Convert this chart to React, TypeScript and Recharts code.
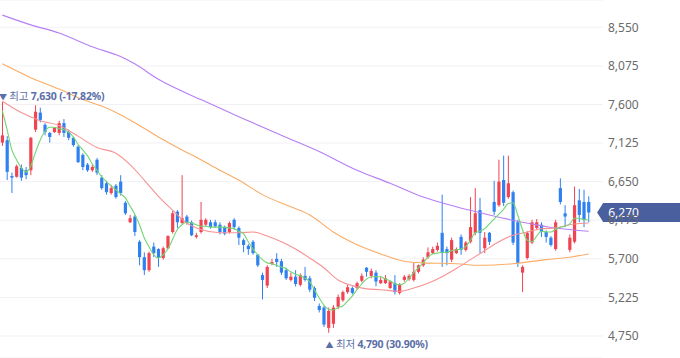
import React from 'react';
import { ComposedChart, Bar, Line, XAxis, YAxis, CartesianGrid, ReferenceDot } from 'recharts';

// ---- data (daily candles) ----
const opens = [
  7130, 7160, 6720, 6710, 6820, 6790, 6790, 7290, 7500, 7350,
  7250, 7260, 7250, 7370, 7260, 7190, 7080, 6980, 6860, 6790,
  6920, 6700, 6630, 6510, 6600, 6650, 6390, 6150, 6220, 5910,
  5720, 5560, 5850, 5820, 5710, 5830, 6030, 6280, 6140, 6220,
  6150, 5970, 6030, 6120, 6150, 6150, 6120, 6090, 6030, 6180,
  6080, 5930, 5860, 5910, 5750, 5500, 5370, 5640, 5700, 5670,
  5560, 5440, 5480, 5380, 5490, 5460, 5340, 5120, 5100, 4850,
  4900, 5110, 5190, 5290, 5340, 5340, 5430, 5590, 5490, 5530,
  5400, 5400, 5340, 5400, 5280, 5440, 5450, 5440, 5540, 5620,
  5720, 5770, 5810, 6020, 5820, 5690, 5770, 5970, 5810, 5910,
  6020, 6300, 5830, 6020, 6400, 6360, 6670, 6460, 6520, 6150,
  5530, 5710, 5900, 6080, 6120, 6030, 5960, 5820, 6570, 6260,
  5810, 5910, 6420, 6400, 6400,
];
const highs = [
  7630, 7210, 6760, 6860, 6860, 6830, 7200, 7590, 7560, 7370,
  7260, 7320, 7400, 7420, 7290, 7200, 7100, 7000, 6880, 6860,
  6940, 6730, 6660, 6610, 6620, 6730, 6410, 6240, 6240, 5930,
  5780, 5790, 5900, 5830, 5850, 5990, 6290, 6300, 6730, 6240,
  6170, 6020, 6400, 6200, 6180, 6180, 6150, 6110, 6160, 6200,
  6100, 5950, 5880, 5930, 5760, 5530, 5620, 5700, 5770, 5700,
  5590, 5530, 5560, 5520, 5600, 5490, 5360, 5150, 5120, 5100,
  5130, 5260, 5310, 5380, 5360, 5420, 5520, 5600, 5580, 5560,
  5480, 5500, 5430, 5500, 5400, 5500, 5510, 5650, 5630, 5720,
  5840, 5850, 5900, 6490, 5850, 5960, 5840, 6000, 5920, 6460,
  6570, 6450, 6030, 6030, 6660, 6920, 6970, 6970, 6540, 6180,
  5620, 6040, 6180, 6190, 6150, 6050, 5980, 6180, 6690, 6360,
  6000, 6590, 6560, 6550, 6470,
];
const lows = [
  7090, 6670, 6510, 6700, 6660, 6680, 6730, 7260, 7380, 7220,
  7130, 7250, 7220, 7200, 7160, 7080, 6880, 6790, 6770, 6770,
  6730, 6550, 6490, 6490, 6440, 6480, 6240, 6140, 5980, 5620,
  5500, 5540, 5720, 5600, 5690, 5820, 6010, 6080, 6130, 6120,
  5980, 5950, 6010, 6100, 6070, 6080, 6000, 5990, 6010, 6060,
  5870, 5780, 5750, 5750, 5600, 5200, 5340, 5620, 5600, 5500,
  5440, 5420, 5360, 5360, 5420, 5290, 5180, 5040, 4860, 4790,
  4850, 5080, 5170, 5270, 5260, 5320, 5410, 5480, 5460, 5360,
  5390, 5390, 5330, 5260, 5260, 5420, 5430, 5420, 5520, 5600,
  5700, 5760, 5790, 5600, 5620, 5660, 5760, 5750, 5790, 5890,
  5990, 5770, 5770, 5870, 6240, 6340, 6350, 6440, 5870, 5600,
  5290, 5690, 5880, 6060, 5970, 5900, 5850, 5800, 6370, 6090,
  5780, 5890, 6150, 6090, 6150,
];
const closes = [
  7220, 6770, 6700, 6840, 6700, 6730, 7190, 7510, 7410, 7260,
  7200, 7310, 7370, 7250, 7190, 7100, 6890, 6830, 6790, 6830,
  6760, 6570, 6520, 6570, 6460, 6510, 6260, 6200, 6030, 5720,
  5560, 5770, 5770, 5710, 5830, 5980, 6260, 6150, 6200, 6140,
  5990, 5990, 6180, 6180, 6090, 6100, 6030, 6010, 6140, 6090,
  5960, 5870, 5820, 5770, 5620, 5440, 5600, 5660, 5660, 5530,
  5460, 5480, 5390, 5500, 5440, 5320, 5220, 5070, 4890, 5060,
  5100, 5230, 5290, 5350, 5280, 5400, 5490, 5540, 5550, 5420,
  5440, 5460, 5420, 5290, 5380, 5480, 5490, 5540, 5620, 5690,
  5780, 5820, 5860, 5770, 5770, 5930, 5820, 5810, 5900, 6090,
  6260, 6020, 5960, 5910, 6280, 6650, 6390, 6630, 5900, 5650,
  5600, 6020, 6150, 6150, 6030, 5970, 5870, 6150, 6400, 6220,
  5960, 6360, 6240, 6180, 6270,
];
// 5-day moving average, read per candle
const ma5 = [
  7520, 7290, 7040, 6920, 6820, 6770, 6840, 7010, 7160, 7270,
  7320, 7320, 7300, 7290, 7260, 7200, 7110, 7040, 6970, 6870,
  6790, 6710, 6650, 6600, 6550, 6500, 6450, 6350, 6250, 6120,
  5960, 5850, 5750, 5710, 5750, 5820, 5940, 6060, 6120, 6150,
  6140, 6120, 6100, 6100, 6090, 6090, 6090, 6090, 6080, 6070,
  6040, 6010, 5910, 5820, 5750, 5690, 5650, 5640, 5620, 5600,
  5580, 5540, 5510, 5490, 5460, 5420, 5320, 5220, 5130, 5080,
  5070, 5100, 5120, 5180, 5240, 5320, 5390, 5450, 5480, 5480,
  5480, 5450, 5430, 5390, 5380, 5400, 5460, 5530, 5590, 5650,
  5720, 5760, 5770, 5780, 5780, 5800, 5810, 5820, 5850, 5930,
  6020, 6040, 6070, 6130, 6190, 6250, 6310, 6380, 6390, 6240,
  6060, 5930, 5910, 5980, 6040, 6030, 6030, 6060, 6090, 6100,
  6130, 6200, 6200, 6180, 6180,
];
// 20 / 60 / 120-day moving averages, read at sample candles
const ma20Idx = [0, 4, 8, 12, 16, 20, 24, 27, 30, 33, 36, 39, 42, 46, 50, 53, 56, 59, 62, 65, 68, 71, 74, 77, 80, 84, 87, 90, 93, 96, 99, 102, 105, 108, 111, 114, 117, 120, 124];
const ma20Val = [7640, 7500, 7400, 7340, 7210, 7070, 7000, 6860, 6670, 6470, 6300, 6140, 6060, 6020, 6020, 6030, 5980, 5910, 5820, 5710, 5590, 5440, 5370, 5330, 5320, 5300, 5340, 5400, 5480, 5580, 5690, 5800, 5910, 5990, 6030, 6070, 6080, 6120, 6140];
const ma60Idx = [0, 6, 12, 17, 21, 27, 33, 38, 42, 46, 50, 55, 61, 65, 70, 74, 80, 85, 89, 96, 101, 108, 115, 120, 124];
const ma60Val = [8100, 7930, 7790, 7660, 7580, 7410, 7200, 7040, 6920, 6790, 6670, 6490, 6340, 6240, 6030, 5900, 5760, 5670, 5650, 5640, 5620, 5640, 5690, 5720, 5760];
const ma120Idx = [0, 6, 12, 19, 25, 28, 33, 42, 50, 59, 67, 75, 82, 89, 96, 103, 110, 117, 124];
const ma120Val = [8700, 8580, 8480, 8310, 8190, 8100, 7910, 7660, 7450, 7220, 7020, 6790, 6630, 6460, 6340, 6240, 6150, 6080, 6040];

const yTicks = [4750, 5225, 5700, 6175, 6650, 7125, 7600, 8075, 8550];
const yDomain = [4479, 8886];

const highMark = { idx: 0, value: 7630, word: '최고', text: '7,630 (-17.82%)' };
const lowMark = { idx: 69, value: 4790, word: '최저', text: '4,790 (30.90%)' };
const lastPrice = 6270;

const UP = '#f04452';
const DOWN = '#2f80f0';
const MARK = '#5a6ea8';
const FONT = "'Noto Sans', 'Noto Sans CJK KR', sans-serif";

function sparse(idx: number[], val: number[], n: number) {
  const out: (number | null)[] = new Array(n).fill(null);
  idx.forEach((k, j) => { out[k] = val[j]; });
  return out;
}

const N = opens.length;
const m20 = sparse(ma20Idx, ma20Val, N);
const m60 = sparse(ma60Idx, ma60Val, N);
const m120 = sparse(ma120Idx, ma120Val, N);

const data = opens.map((o, i) => ({
  i,
  o,
  h: highs[i],
  l: lows[i],
  c: closes[i],
  range: [lows[i], highs[i]],
  ma5: ma5[i],
  ma20: m20[i],
  ma60: m60[i],
  ma120: m120[i],
}));

function Candle(props: any) {
  const { x, y, width, height, payload } = props;
  if (!payload) return null;
  const { o, h, l, c } = payload;
  const color = c >= o ? UP : DOWN;
  const cx = x + width / 2;
  const top = Math.min(y, y + height);
  const hgt = Math.abs(height);
  const ppu = h > l ? hgt / (h - l) : 0;
  const bTop = top + (h - Math.max(o, c)) * ppu;
  const bBot = top + (h - Math.min(o, c)) * ppu;
  const bw = 3.2;
  return (
    <g>
      <line x1={cx} x2={cx} y1={top} y2={top + hgt} stroke={color} strokeWidth={1} />
      <rect x={cx - bw / 2} y={bTop} width={bw} height={Math.max(1, bBot - bTop)} fill={color} />
    </g>
  );
}

function HighLabel(p: any) {
  const { cx, cy } = p;
  return (
    <text x={cx - 3.5} y={cy - 2} fill={MARK} fontSize={10.5} fontFamily={FONT} letterSpacing={-0.2}>
      <tspan fontSize={8}>▼</tspan>
      <tspan> {highMark.word} </tspan>
      <tspan fontWeight={700}>{highMark.text}</tspan>
    </text>
  );
}

function LowLabel(p: any) {
  const { cx, cy } = p;
  return (
    <text x={cx - 3} y={cy + 15} fill={MARK} fontSize={10.5} fontFamily={FONT} letterSpacing={-0.2}>
      <tspan fontSize={8}>▲</tspan>
      <tspan> {lowMark.word} </tspan>
      <tspan fontWeight={700}>{lowMark.text}</tspan>
    </text>
  );
}

function PriceTag(p: any) {
  const { cx, cy } = p;
  const tip = cx + 8.5;
  const left = cx + 14.5;
  const h = 9.5;
  return (
    <g>
      <path d={`M${tip},${cy} L${left},${cy - h} L680,${cy - h} L680,${cy + h} L${left},${cy + h} Z`} fill="#4a5f9e" />
      <text x={cx + 19.6} y={cy + 4.3} fill="#ffffff" fontSize={12} fontFamily={FONT}>
        {lastPrice.toLocaleString('en-US')}
      </text>
    </g>
  );
}

export default function App() {
  return (
    <div style={{ position: 'absolute', left: 0, top: 0, width: 680, height: 358, background: '#fff' }}>
      <ComposedChart width={680} height={358} data={data} margin={{ top: 0, right: 0, bottom: 0, left: 0 }}>
        <CartesianGrid vertical={false} stroke="#f1f1f5" />
        <XAxis dataKey="i" type="category" hide padding={{ left: 0, right: 12 }} />
        <YAxis
          orientation="right"
          domain={yDomain}
          ticks={yTicks}
          allowDataOverflow
          width={77}
          tickLine={false}
          axisLine={false}
          tickSize={0}
          tickMargin={5}
          interval={0}
          tick={{ fill: '#6b6b6b', fontSize: 12, fontFamily: FONT }}
          tickFormatter={(v: number) => v.toLocaleString('en-US')}
        />
        <Bar dataKey="range" shape={Candle} activeBar={false} isAnimationActive={false} />
        <Line dataKey="ma120" type="monotone" stroke="#b67ff4" strokeWidth={1.1} dot={false} activeDot={false} connectNulls isAnimationActive={false} />
        <Line dataKey="ma60" type="monotone" stroke="#fbac66" strokeWidth={1.1} dot={false} activeDot={false} connectNulls isAnimationActive={false} />
        <Line dataKey="ma20" type="monotone" stroke="#f79292" strokeWidth={1.1} dot={false} activeDot={false} connectNulls isAnimationActive={false} />
        <Line dataKey="ma5" type="monotone" stroke="#72d673" strokeWidth={1.1} dot={false} activeDot={false} connectNulls isAnimationActive={false} />
        <ReferenceDot x={highMark.idx} y={highMark.value} r={0} ifOverflow="visible" shape={HighLabel} />
        <ReferenceDot x={lowMark.idx} y={lowMark.value} r={0} ifOverflow="visible" shape={LowLabel} />
        <ReferenceDot x={N - 1} y={lastPrice} r={0} ifOverflow="visible" shape={PriceTag} />
      </ComposedChart>
    </div>
  );
}
